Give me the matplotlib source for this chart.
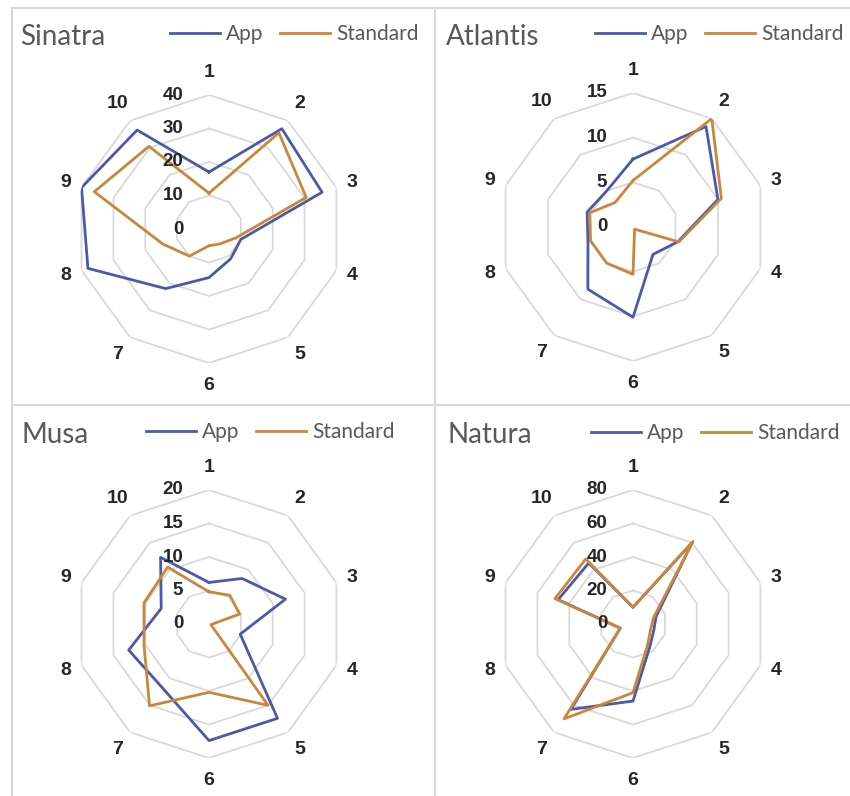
import numpy as np
import matplotlib.pyplot as plt
from matplotlib.lines import Line2D

plt.rcParams['font.family'] = ['Lato', 'DejaVu Sans']

categories = [str(i) for i in range(1, 11)]

sinatra_app = [17, 37, 35.5, 10, 11, 14.5, 22, 38, 40, 36.5]
sinatra_std = [10.7, 35.5, 30.5, 8.5, 5.5, 5, 10, 14.5, 36, 30.5]
sinatra_ticks = [0, 10, 20, 30, 40]

atlantis_app = [7.6, 13.9, 10.0, 5.3, 3.8, 10.1, 8.6, 5.3, 5.4, 5.0]
atlantis_std = [5.2, 15.0, 10.4, 5.4, 0.3, 5.3, 5.0, 5.0, 5.1, 3.4]
atlantis_ticks = [0, 5, 10, 15]

musa_app = [6.2, 8.4, 12.0, 4.9, 17.4, 17.4, 11.8, 12.6, 7.5, 12.3]
musa_std = [4.8, 5.3, 4.8, 0.3, 15.0, 10.2, 15.1, 10.2, 10.2, 10.5]
musa_ticks = [0, 5, 10, 15, 20]

natura_app = [10, 60, 14.5, 13, 17, 46, 63, 8, 47, 45]
natura_std = [10, 61, 13, 11, 15, 41, 70, 8, 49, 48]
natura_ticks = [0, 20, 40, 60, 80]

APP = "#4a5aa8"
STD = "#c8873a"
GRID = "#d9d9d9"
LABEL_FONT = ["Liberation Sans", "DejaVu Sans"]

W, H = 850, 796
R = 134
fig = plt.figure(figsize=(W / 100, H / 100), dpi=100)

theta = np.linspace(0, 2 * np.pi, len(categories), endpoint=False)
theta_c = np.append(theta, theta[0])


def closed(v):
    return list(v) + [v[0]]


def draw_panel(cx, cy, name, title_xy, app, std, ticks, leg_xy):
    ax = fig.add_axes([(cx - R) / W, 1 - (cy + R) / H, 2 * R / W, 2 * R / H],
                      projection="polar")
    ax.set_theta_zero_location("N")
    ax.set_theta_direction(-1)
    ax.set_ylim(0, ticks[-1])
    ax.grid(False)
    ax.spines["polar"].set_visible(False)
    ax.set_xticks([])
    ax.set_yticks([])
    ax.patch.set_alpha(0)
    for t in ticks[1:]:
        ax.plot(theta_c, [t] * len(theta_c), color=GRID, lw=1.3, zorder=1)
    ax.plot(theta_c, closed(app), color=APP, lw=2.0, label="App", zorder=3)
    ax.plot(theta_c, closed(std), color=STD, lw=2.0, label="Standard", zorder=4)
    for t in ticks:
        ax.annotate(str(t), xy=(0, t), xytext=(-18.5, 0), textcoords="offset points",
                    ha="right", va="center", fontsize=13.5, fontweight="bold",
                    family=LABEL_FONT, color="#262626", zorder=5)
    top = ticks[-1]
    for th, c in zip(theta, categories):
        r = top * (1.10 + 0.07 * abs(np.cos(th)))
        ax.text(th, r, c, ha="center", va="center", fontsize=14,
                fontweight="bold", family=LABEL_FONT, color="#262626")
    fig.text(title_xy[0] / W, 1 - title_xy[1] / H, name, fontsize=20,
             color="#595959", va="baseline", ha="left")
    h, l = ax.get_legend_handles_labels()
    fig.legend(h, l, loc="center right",
               bbox_to_anchor=(leg_xy[0] / W, 1 - leg_xy[1] / H),
               ncol=2, frameon=False, fontsize=15, handlelength=2.4,
               handletextpad=0.3, columnspacing=0.8, borderpad=0,
               borderaxespad=0, labelcolor="#595959")


draw_panel(209, 229, "Sinatra", (20, 45), sinatra_app, sinatra_std, sinatra_ticks, (419, 34))
draw_panel(633, 227, "Atlantis", (446, 45), atlantis_app, atlantis_std, atlantis_ticks, (844, 34))
draw_panel(209, 624, "Musa", (22, 443), musa_app, musa_std, musa_ticks, (395, 432))
draw_panel(633, 624, "Natura", (447, 443), natura_app, natura_std, natura_ticks, (840, 433))

# panel frame lines
for xs, ys in [([12, 850], [8, 8]), ([12, 12], [8, 796]),
               ([435, 435], [8, 796]), ([12, 850], [405, 405])]:
    fig.add_artist(Line2D([x / W for x in xs], [1 - y / H for y in ys],
                          transform=fig.transFigure, color=GRID, lw=1.5))

fig.savefig("out.png", dpi=100)
